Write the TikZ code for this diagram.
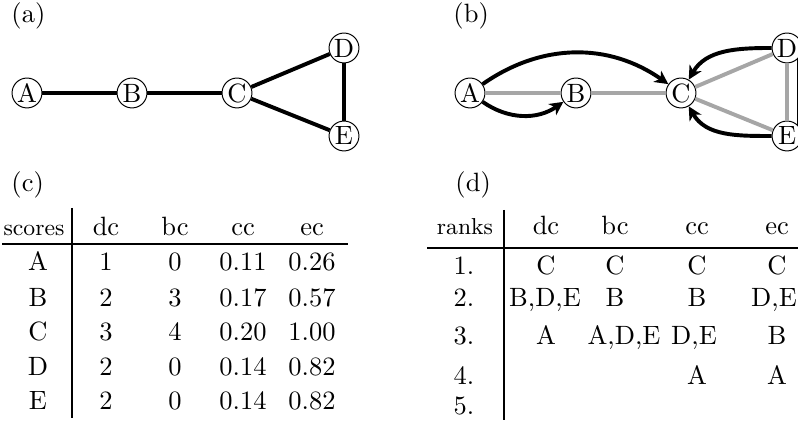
\documentclass[tikz,border=0pt]{standalone}
\usetikzlibrary{arrows.meta}
\begin{document}
\begin{tikzpicture}[x=0.408pt,y=0.408pt,
  every node/.style={font=\fontsize{10.8}{13}\selectfont},
  vtx/.style={circle,draw,fill=white,line width=0.4pt,inner sep=0pt,minimum size=12.2pt},
  edg/.style={line width=1.6pt},
  gedg/.style={line width=1.6pt,draw=black!35},
  arr/.style={line width=1.6pt,-{Stealth[length=5.5pt,width=5.5pt,inset=1.6pt]}},
  lbl/.style={anchor=base west,inner sep=0pt},
  cell/.style={anchor=base,inner sep=0pt},
  hdr/.style={anchor=base,inner sep=0pt,font=\fontsize{9.4}{11}\selectfont},
  rulel/.style={line width=0.45pt}
]
\useasboundingbox (0,0) rectangle (798,425);
\clip (0,0) rectangle (798,425);

% panel labels
\node[lbl] (la) at (11,402) {(a)};
\node[lbl] (lb) at (453,402) {(b)};
\node[lbl] (lc) at (11,233) {(c)};
\node[lbl] (ld) at (455,233) {(d)};

% (a) graph
\node[vtx] (aA) at (27,332) {A};
\node[vtx] (aB) at (132,332) {B};
\node[vtx] (aC) at (237,332) {C};
\node[vtx] (aD) at (344,377) {D};
\node[vtx] (aE) at (344,289) {E};
\draw[edg] (aA) -- (aB);
\draw[edg] (aB) -- (aC);
\draw[edg] (aC) -- (aD);
\draw[edg] (aC) -- (aE);
\draw[edg] (aD) -- (aE);

% (b) graph
\node[vtx] (bA) at (470,332) {A};
\node[vtx] (bB) at (576,332) {B};
\node[vtx] (bC) at (681,332) {C};
\node[vtx] (bD) at (787,377) {D};
\node[vtx] (bE) at (787,289) {E};
\draw[gedg] (bA) -- (bB);
\draw[gedg] (bB) -- (bC);
\draw[gedg] (bC) -- (bD);
\draw[gedg] (bC) -- (bE);
\draw[gedg] (bD) -- (bE);
\draw[arr] (bA) to[out=35,in=145] (bC);
\draw[arr] (bA) to[out=-35,in=-145] (bB);
\draw[arr] (bD) to[out=180,in=60] (bC);
\draw[arr] (bE) to[out=180,in=-60] (bC);
\draw[edg] (bD.-40) to[out=-90,in=90] (bE.40);

% (c) table
\node[hdr] (ch0) at (34,189) {scores};
\node[cell] (ch1) at (106,189) {dc};
\node[cell] (ch2) at (175,189) {bc};
\node[cell] (ch3) at (243,189) {cc};
\node[cell] (ch4) at (312,189) {ec};
\foreach \y/\a/\b/\c/\d/\e [count=\i] in
  {154/A/1/0/0.11/0.26, 118.5/B/2/3/0.17/0.57, 84.5/C/3/4/0.20/1.00,
   49.5/D/2/0/0.14/0.82, 15/E/2/0/0.14/0.82} {
  \node[cell] (c\i a) at (38,\y) {\a};
  \node[cell] (c\i b) at (106,\y) {\b};
  \node[cell] (c\i c) at (175,\y) {\c};
  \node[cell] (c\i d) at (243,\y) {\d};
  \node[cell] (c\i e) at (312,\y) {\e};
}
\draw[rulel] (2,181) -- (348,181);
\draw[rulel] (72,217) -- (72,7);

% (d) table
\node[hdr] (dh0) at (465,190) {ranks};
\node[cell] (dh1) at (546,190) {dc};
\node[cell] (dh2) at (615,190) {bc};
\node[cell] (dh3) at (697,190) {cc};
\node[cell] (dh4) at (777,190) {ec};
\node[cell] (d1a) at (464,150.7) {1.};
\node[cell] (d1b) at (546,150.7) {C};
\node[cell] (d1c) at (615,150.7) {C};
\node[cell] (d1d) at (697,150.7) {C};
\node[cell] (d1e) at (777,150.7) {C};
\node[cell] (d2a) at (464,118.3) {2.};
\node[cell] (d2b) at (545,118.3) {B,D,E};
\node[cell] (d2c) at (615,118.3) {B};
\node[cell] (d2d) at (697,118.3) {B};
\node[cell] (d2e) at (774,118.3) {D,E};
\node[cell] (d3a) at (464,80) {3.};
\node[cell] (d3b) at (546,80) {A};
\node[cell] (d3c) at (624,80) {A,D,E};
\node[cell] (d3d) at (694,80) {D,E};
\node[cell] (d3e) at (777,80) {B};
\node[cell] (d4a) at (464,40.7) {4.};
\node[cell] (d4d) at (697,40.7) {A};
\node[cell] (d4e) at (777,40.7) {A};
\node[cell] (d5a) at (464,10) {5.};
\draw[rulel] (427,177) -- (800,177);
\draw[rulel] (504,215) -- (504,5);
\end{tikzpicture}
\end{document}
